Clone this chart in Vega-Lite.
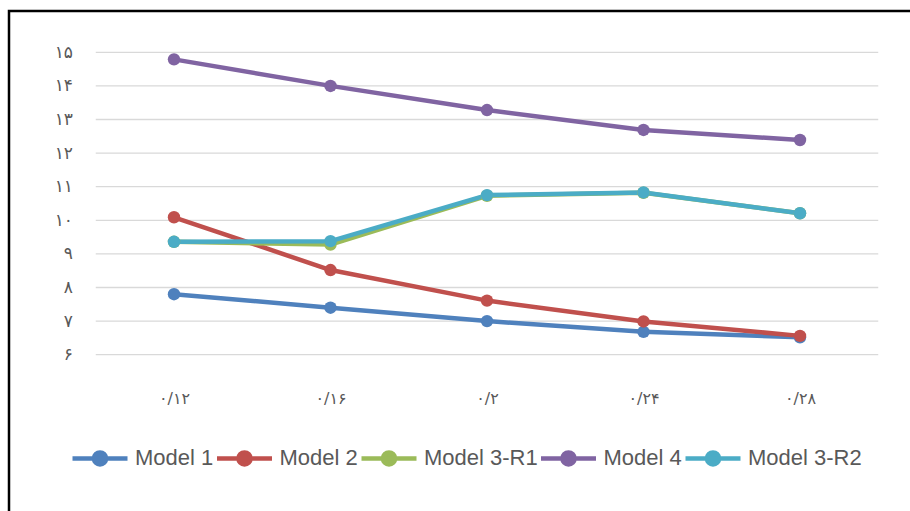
{
  "$schema": "https://vega.github.io/schema/vega-lite/v6.json",
  "width": 901,
  "height": 500,
  "autosize": "none",
  "padding": {"left": 9, "top": 11, "right": 0, "bottom": 0},
  "background": "white",
  "datasets": {
    "gridlines": [
      {"tick": 6}, {"tick": 7}, {"tick": 8}, {"tick": 9}, {"tick": 10},
      {"tick": 11}, {"tick": 12}, {"tick": 13}, {"tick": 14}, {"tick": 15}
    ],
    "series": [
      {"x": 0.12, "model": "Model 1", "value": 7.80},
      {"x": 0.16, "model": "Model 1", "value": 7.40},
      {"x": 0.20, "model": "Model 1", "value": 7.00},
      {"x": 0.24, "model": "Model 1", "value": 6.68},
      {"x": 0.28, "model": "Model 1", "value": 6.52},
      {"x": 0.12, "model": "Model 2", "value": 10.09},
      {"x": 0.16, "model": "Model 2", "value": 8.52},
      {"x": 0.20, "model": "Model 2", "value": 7.61},
      {"x": 0.24, "model": "Model 2", "value": 6.99},
      {"x": 0.28, "model": "Model 2", "value": 6.56},
      {"x": 0.12, "model": "Model 3-R1", "value": 9.36},
      {"x": 0.16, "model": "Model 3-R1", "value": 9.28},
      {"x": 0.20, "model": "Model 3-R1", "value": 10.73},
      {"x": 0.24, "model": "Model 3-R1", "value": 10.82},
      {"x": 0.28, "model": "Model 3-R1", "value": 10.21},
      {"x": 0.12, "model": "Model 4", "value": 14.79},
      {"x": 0.16, "model": "Model 4", "value": 14.00},
      {"x": 0.20, "model": "Model 4", "value": 13.28},
      {"x": 0.24, "model": "Model 4", "value": 12.69},
      {"x": 0.28, "model": "Model 4", "value": 12.39},
      {"x": 0.12, "model": "Model 3-R2", "value": 9.36},
      {"x": 0.16, "model": "Model 3-R2", "value": 9.38},
      {"x": 0.20, "model": "Model 3-R2", "value": 10.75},
      {"x": 0.24, "model": "Model 3-R2", "value": 10.83},
      {"x": 0.28, "model": "Model 3-R2", "value": 10.21}
    ]
  },
  "layer": [
    {
      "data": {"name": "gridlines"},
      "mark": {"type": "rule", "color": "#D9D9D9", "strokeWidth": 1.3},
      "encoding": {
        "y": {"field": "tick", "type": "quantitative"},
        "x": {"datum": 0.10, "type": "quantitative"},
        "x2": {"datum": 0.30}
      }
    },
    {
      "data": {"name": "series"},
      "mark": {
        "type": "line",
        "strokeWidth": 4.5,
        "strokeCap": "round",
        "strokeJoin": "round",
        "point": {"filled": true, "size": 155, "opacity": 1}
      },
      "encoding": {
        "x": {"field": "x", "type": "quantitative"},
        "y": {"field": "value", "type": "quantitative"},
        "color": {
          "field": "model",
          "type": "nominal",
          "scale": {
            "domain": ["Model 1", "Model 2", "Model 3-R1", "Model 4", "Model 3-R2"],
            "range": ["#4F81BD", "#C0504D", "#9BBB59", "#8064A2", "#4BACC6"]
          },
          "legend": {
            "title": null,
            "orient": "none",
            "direction": "horizontal",
            "legendX": 61,
            "legendY": 417,
            "symbolType": "M-1,0L1,0M0.22,0A0.22,0.22,0,1,1,-0.22,0A0.22,0.22,0,1,1,0.22,0Z",
            "symbolSize": 3025,
            "symbolStrokeWidth": 4.5,
            "labelFont": "Liberation Sans",
            "labelFontSize": 22,
            "labelColor": "#595959",
            "labelOffset": 5,
            "columnPadding": -6.5,
            "encode": {
              "symbols": {
                "update": {
                  "fill": {"scale": "color", "field": "value"},
                  "fillOpacity": {"value": 1},
                  "opacity": {"value": 1}
                }
              }
            }
          }
        }
      }
    }
  ],
  "resolve": {"scale": {"x": "shared", "y": "shared"}},
  "encoding": {
    "x": {
      "type": "quantitative",
      "scale": {"domain": [0.077827, 0.308115], "nice": false, "zero": false},
      "axis": {
        "title": null,
        "values": [0.12, 0.16, 0.2, 0.24, 0.28],
        "labelExpr": "['۰/۱۲','۰/۱۶','۰/۲','۰/۲۴','۰/۲۸'][round((datum.value - 0.12) / 0.04)]",
        "offset": -156.3,
        "domain": false,
        "ticks": false,
        "grid": false,
        "labelAngle": 0,
        "labelPadding": 36,
        "labelFont": "DejaVu Sans",
        "labelFontSize": 16,
        "labelColor": "#595959"
      }
    },
    "y": {
      "type": "quantitative",
      "scale": {"domain": [1.3482, 16.2292], "nice": false, "zero": false},
      "axis": {
        "title": null,
        "values": [6, 7, 8, 9, 10, 11, 12, 13, 14, 15],
        "labelExpr": "['۰','۱','۲','۳','۴','۵','۶','۷','۸','۹','۱۰','۱۱','۱۲','۱۳','۱۴','۱۵'][datum.value]",
        "offset": -86.5,
        "domain": false,
        "ticks": false,
        "grid": false,
        "labelPadding": 23,
        "labelFont": "DejaVu Sans",
        "labelFontSize": 17,
        "labelColor": "#595959"
      }
    }
  },
  "config": {
    "view": {
      "stroke": "black",
      "strokeWidth": 2.5,
      "strokeDash": [901, 1401, 500]
    }
  }
}
